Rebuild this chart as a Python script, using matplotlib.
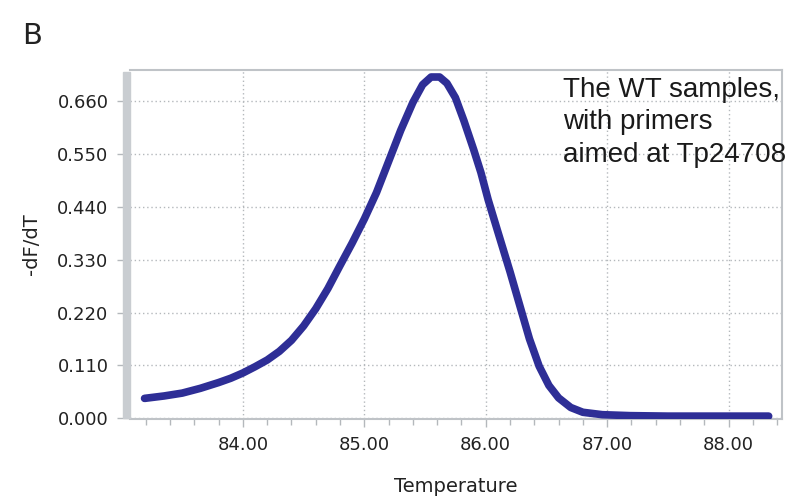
import numpy as np
import matplotlib.pyplot as plt
import matplotlib.ticker as ticker
from matplotlib.patches import Rectangle

# Melt curve: -dF/dT against temperature
temp = [83.19, 83.35, 83.50, 83.65, 83.80, 83.90, 84.00, 84.10, 84.20, 84.30,
        84.40, 84.50, 84.60, 84.70, 84.80, 84.90, 85.00, 85.10, 85.20, 85.30,
        85.40, 85.48, 85.55, 85.62, 85.68, 85.75, 85.82, 85.90, 85.96, 86.02,
        86.10, 86.20, 86.28, 86.36, 86.44, 86.52, 86.60, 86.70, 86.80, 86.96,
        87.19, 87.50, 88.00, 88.33]
dfdt = [0.041, 0.046, 0.052, 0.062, 0.074, 0.083, 0.094, 0.107, 0.121, 0.139,
        0.162, 0.192, 0.228, 0.270, 0.318, 0.365, 0.415, 0.470, 0.535, 0.600,
        0.658, 0.695, 0.711, 0.711, 0.698, 0.668, 0.620, 0.560, 0.512, 0.455,
        0.388, 0.305, 0.235, 0.165, 0.108, 0.068, 0.042, 0.022, 0.012, 0.007,
        0.005, 0.004, 0.004, 0.004]

x_ticks = [84.0, 85.0, 86.0, 87.0, 88.0]
y_ticks = [0.000, 0.110, 0.220, 0.330, 0.440, 0.550, 0.660]
note = "The WT samples,\nwith primers\naimed at Tp24708"

W, H = 787, 498
fig = plt.figure(figsize=(W / 100, H / 100), dpi=100)
ax = fig.add_axes([130 / W, 1 - 419 / H, 652 / W, 349 / H])

ax.plot(temp, dfdt, color="#2e2e96", lw=5.5, solid_capstyle="round",
        solid_joinstyle="round", zorder=3)

ax.set_xlim(83.07, 88.44)
ax.set_ylim(-0.002, 0.7256)

grid_kw = dict(color="#b4b8bc", lw=1.0, ls=(0, (1, 2)))
ax.xaxis.set_major_locator(ticker.FixedLocator(x_ticks))
ax.xaxis.set_minor_locator(ticker.MultipleLocator(0.2))
ax.yaxis.set_major_locator(ticker.FixedLocator(y_ticks))
ax.xaxis.set_major_formatter(ticker.FormatStrFormatter("%.2f"))
ax.yaxis.set_major_formatter(ticker.FormatStrFormatter("%.3f"))
ax.grid(True, axis="both", which="major", **grid_kw)

for side in ["top", "right", "bottom"]:
    ax.spines[side].set_color("#bfc3c7")
    ax.spines[side].set_linewidth(1.5)
ax.spines["left"].set_visible(False)

ax.tick_params(axis="x", which="major", length=6, width=1, color="#b4b8bc",
               labelsize=13, labelcolor="#222222", pad=6)
ax.tick_params(axis="x", which="minor", length=4, width=1, color="#b4b8bc")
ax.tick_params(axis="y", which="major", length=9.5, width=1, color="#b4b8bc",
               labelsize=13, labelcolor="#222222", pad=6)

ax.set_xlabel("Temperature", fontsize=14, color="#222222", labelpad=17)
ax.set_ylabel("-dF/dT", fontsize=14, color="#222222", labelpad=12)

# grey wall along the left edge of the plot
fig.patches.append(Rectangle((123 / W, 1 - 418 / H), 7 / W, 346 / H,
                             transform=fig.transFigure, color="#c9cdd1",
                             zorder=5))

ax.text(0.664, 0.98, note, transform=ax.transAxes, ha="left", va="top",
        fontsize=20, family="Liberation Sans", color="#1a1a1a",
        linespacing=1.32, zorder=4)

fig.text(22 / W, 1 - 44 / H, "B", fontsize=21, color="#222222",
         ha="left", va="baseline")

fig.savefig("out.png", dpi=100)
